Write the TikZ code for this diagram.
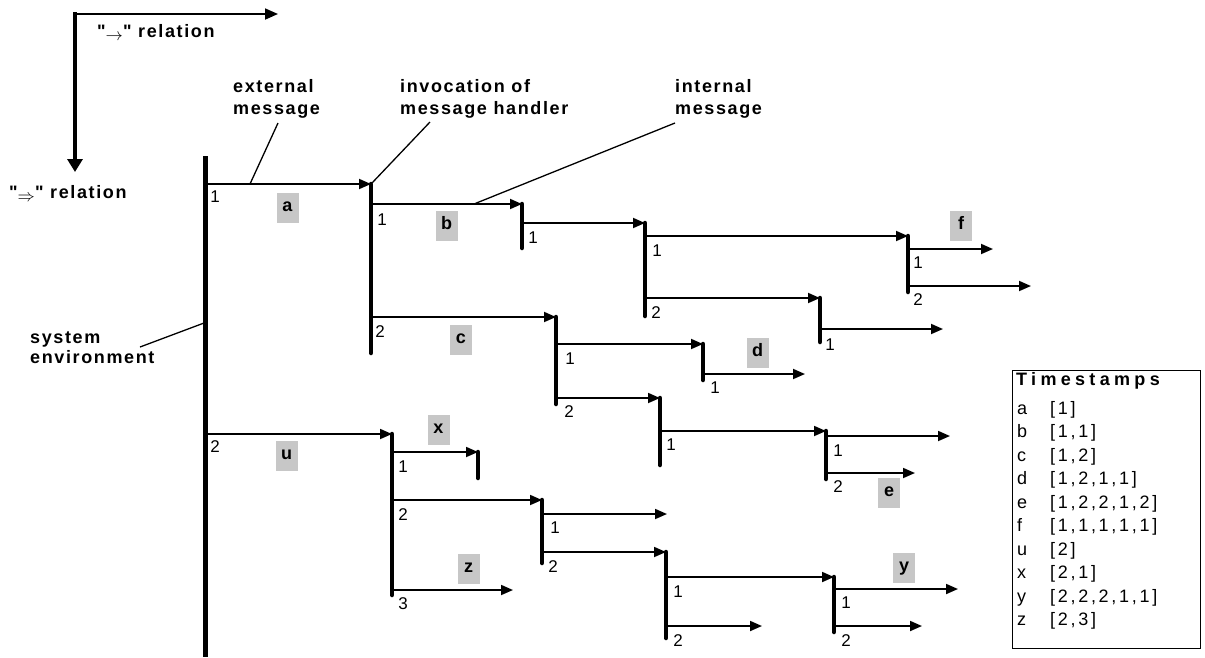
\documentclass[tikz,border=0pt]{standalone}
\usepackage{fontspec}
\setmainfont{Liberation Sans}
\newfontfamily\annfont[LetterSpace=9]{Liberation Sans}
\newfontfamily\headfont[LetterSpace=24]{Liberation Sans}
\newfontfamily\tsfont[LetterSpace=15]{Liberation Sans}
\usetikzlibrary{arrows.meta}
\begin{document}
\begin{tikzpicture}[x=1pt,y=-1pt,
  msg/.style={line width=1.8pt,-{Triangle[length=12pt,width=10pt]}},
  hdl/.style={line width=4.5pt,line cap=round},
  num/.style={font=\fontsize{17}{17}\selectfont,inner sep=0pt},
  tag/.style={fill=black!22,minimum width=22pt,inner sep=0pt,text height=18pt,text depth=12pt,font=\bfseries\fontsize{18}{18}\selectfont,anchor=north},
  ann/.style={font=\annfont\bfseries\fontsize{18}{22}\selectfont,align=left,inner sep=0pt,anchor=west},
  lead/.style={line width=1.3pt},
  tsrow/.style={font=\tsfont\fontsize{18}{18}\selectfont,inner sep=0pt,anchor=west,text height=13pt,text depth=4pt}]
\useasboundingbox (0,0) rectangle (1205,657);

% legend
\coordinate (Lc) at (75,14);
\coordinate (Lh) at (278,14);
\coordinate (Lv) at (75,172);
\draw[line width=1.8pt,-{Triangle[length=13pt,width=11pt]}] (Lc) -- (Lh);
\draw[line width=3.5pt,line cap=rect,-{Triangle[length=13pt,width=15pt]}] (Lc) -- (Lv);
\node[ann] (relH) at (97,32) {"\raisebox{-3pt}{$\rightarrow$}" relation};
\node[ann] (relV) at (9,193) {"\raisebox{-3pt}{$\Rightarrow$}" relation};

% annotations
\node[ann] (extl) at (233,99) {external\\message};
\node[ann] (invl) at (400,99) {invocation of\\message handler};
\node[ann] (intl) at (675,99) {internal\\message};
\node[ann,font=\annfont\bfseries\fontsize{18}{20}\selectfont] (envl) at (30,348) {system\\environment};

% system environment
\coordinate (Et) at (205,156);
\coordinate (Eb) at (205,657);
\draw[line width=5pt] (Et) -- (Eb);

% handlers
\foreach \n/\x/\t/\b in {A/371/184/353, B/522/204/248, C/645/223/316, F/908/236/292,
  G/820/298/342, H/556/317/404, D/703/344/380, I/660/398/465, J/826/431/479,
  U/392/434/595, X/478/452/478, K/542/500/563, L/666/552/638, M/834/577/632}{
  \coordinate (\n) at (\x,\t);
  \coordinate (\n b) at (\x,\b);
  \draw[hdl] (\n) -- (\n b);
}

% message start points and free ends
\foreach \n/\x/\y in {sa/205/184, sb/371/204, sc/371/317, sB1/522/223, sC1/645/236,
  sC2/645/298, sF1/908/249, sF2/908/286, sG1/820/329, sH1/556/344, sH2/556/398,
  sD1/703/374, sI1/660/431, sJ1/826/436, sJ2/826/473, su/205/434, sU1/392/452,
  sU2/392/500, sU3/392/590, sK1/542/514, sK2/542/552, sL1/666/577, sL2/666/626,
  sM1/834/589, sM2/834/626,
  tF1/993/249, tF2/1031/286, tG1/943/329, tD1/805/374, tJ1/950/436, tJ2/915/473,
  tU3/513/590, tK1/667/514, tL2/762/626, tM1/958/589, tM2/922/626}{
  \coordinate (\n) at (\x,\y);
}

% messages
\foreach \s/\e in {sa/A, sb/B, sc/H, sB1/C, sC1/F, sC2/G, sF1/tF1, sF2/tF2, sG1/tG1,
  sH1/D, sH2/I, sD1/tD1, sI1/J, sJ1/tJ1, sJ2/tJ2, su/U, sU1/X, sU2/K, sU3/tU3,
  sK1/tK1, sK2/L, sL1/M, sL2/tL2, sM1/tM1, sM2/tM2}{
  \draw[msg] (\s) -- (\e);
}

% leader lines
\coordinate (le1) at (250,184); \coordinate (le2) at (278,123);
\coordinate (li1) at (372,183); \coordinate (li2) at (430,122);
\coordinate (ln1) at (474,204); \coordinate (ln2) at (675,123);
\coordinate (ls1) at (140,347); \coordinate (ls2) at (204,323);
\draw[lead] (le1) -- (le2);
\draw[lead] (li1) -- (li2);
\draw[lead] (ln1) -- (ln2);
\draw[lead] (ls1) -- (ls2);

% branch numbers
\foreach \n/\x/\y/\t in {n1/215/197/1, n2/382/220/1, n3/380/332/2, n4/533/238/1,
  n5/657/251/1, n6/656/313/2, n7/918/263/1, n8/918/300/2, n9/830/345/1,
  n10/570/359/1, n11/569/412/2, n12/715/388/1, n13/671/445/1, n14/838/451/1,
  n15/838/487/2, n16/215/447/2, n17/403/467/1, n18/403/515/2, n19/403/604/3,
  n20/555/528/1, n21/553/567/2, n22/678/592/1, n23/678/641/2, n24/846/603/1,
  n25/846/641/2}{
  \node[num] (\n) at (\x,\y) {\t};
}

% message tags
\foreach \n/\x/\y/\t in {ta/287.5/193/a, tb/446.5/211/b, tc/461/325/c, tf/961/211/f,
  td/757.5/338/d, te/889/478/e, tu/286.5/441/u, tx/438.5/415/x, tz/468.5/554/z,
  ty/904/553/y}{
  \node[tag] (\n) at (\x,\y) {\t};
}

% timestamps box
\node[draw,line width=1.4pt,minimum width=188pt,minimum height=278pt,anchor=north west,inner sep=0pt] (ts) at (1012,370) {};
\node[anchor=west,inner sep=0pt,font=\headfont\bfseries\fontsize{18}{18}\selectfont] (tsh) at (1016,381) {Timestamps};
\foreach \n/\y/\l/\v in {r1/409.5/a/{[1]}, r2/433/b/{[1,1]}, r3/456.5/c/{[1,2]},
  r4/480/d/{[1,2,1,1]}, r5/503.5/e/{[1,2,2,1,2]}, r6/527/f/{[1,1,1,1,1]},
  r7/550.5/u/{[2]}, r8/574/x/{[2,1]}, r9/597.5/y/{[2,2,2,1,1]}, r10/621/z/{[2,3]}}{
  \node[tsrow] (\n l) at (1017,\y) {\l};
  \node[tsrow] (\n v) at (1050,\y) {\v};
}
\end{tikzpicture}
\end{document}
